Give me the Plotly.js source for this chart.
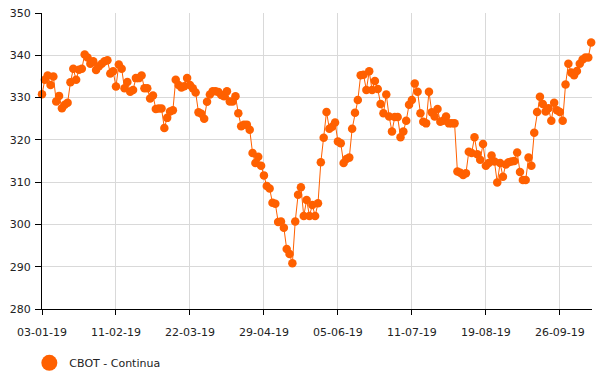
<!DOCTYPE html>
<html>
<head>
<meta charset="utf-8">
<script src="https://cdn.plot.ly/plotly-3.0.1.min.js"></script>
<style>html,body{margin:0;padding:0;background:#fff;}#chart{width:603px;height:381px;}</style>
</head>
<body>
<div id="chart"></div>
<script>
var seriesName = 'CBOT - Continua';
var values = [
330.8,334.2,335.2,333.0,335.0,329.1,330.4,327.5,328.3,328.8,
333.6,336.8,334.2,336.6,336.8,340.2,339.5,338.0,338.6,336.5,
337.4,338.0,338.6,338.8,335.7,336.2,332.6,337.8,336.8,332.2,
333.7,331.4,331.8,334.6,334.6,335.2,332.2,332.2,329.8,330.5,
327.3,327.4,327.4,322.8,325.2,326.7,327.0,334.2,333.0,332.4,
332.7,334.6,333.0,332.2,331.2,326.5,326.2,325.0,329.0,330.7,
331.5,331.5,331.3,330.6,330.3,331.5,329.1,329.1,330.3,326.3,
323.2,323.6,323.6,322.4,316.9,314.5,316.0,313.9,311.6,309.1,
308.5,305.1,304.9,300.6,300.7,299.2,294.2,293.0,290.8,300.7,
307.0,308.8,302.0,305.8,302.0,304.6,302.0,305.0,314.7,320.5,
326.6,322.6,323.1,324.1,319.6,319.2,314.5,315.5,315.8,322.6,
326.4,329.4,335.3,335.4,331.8,336.2,331.8,333.9,332.0,328.5,
326.3,330.7,325.5,322.0,325.4,325.4,320.6,322.0,324.5,328.3,
329.4,333.3,331.4,326.3,324.3,323.9,331.4,326.5,325.5,327.3,
324.3,324.5,325.5,323.9,323.9,323.9,312.5,312.2,311.7,312.1,
317.2,316.9,320.6,316.6,315.3,319.0,313.9,314.5,316.3,314.9,
309.9,314.5,311.3,314.2,314.7,314.9,315.0,317.0,312.4,310.5,
310.5,315.8,313.9,321.7,326.6,330.2,328.5,326.7,327.5,324.5,
328.8,327.0,326.6,324.5,333.1,338.0,335.9,335.3,336.3,338.0,
339.0,339.5,339.5,343.0
];
var tickPositions = [0, 26, 52, 78, 104, 130, 156, 182];
var tickLabels = ['03-01-19','11-02-19','22-03-19','29-04-19','05-06-19','11-07-19','19-08-19','26-09-19'];
var yTicks = [280, 290, 300, 310, 320, 330, 340, 350];

var xs = values.map(function(v, i){ return i; });
var orange = '#ff6000';
var font = 'DejaVu Sans, Verdana, sans-serif';

var traces = [
  {
    x: xs, y: values, type: 'scatter', mode: 'lines+markers',
    line: {color: orange, width: 1},
    marker: {color: orange, size: 8.5},
    cliponaxis: false, showlegend: false, hoverinfo: 'x+y'
  },
  {
    x: [null], y: [null], type: 'scatter', mode: 'markers', name: seriesName,
    marker: {color: orange, size: 16}, showlegend: true
  }
];

var layout = {
  width: 603, height: 381,
  margin: {l: 42, r: 11, t: 13, b: 72, autoexpand: false},
  paper_bgcolor: '#fff', plot_bgcolor: '#fff',
  font: {family: font, size: 11, color: '#222'},
  xaxis: {
    range: [0, 193.3], tickmode: 'array', tickvals: tickPositions, ticktext: tickLabels,
    showgrid: true, gridcolor: '#d9d9d9', gridwidth: 1,
    showline: true, linecolor: '#000', linewidth: 1,
    ticks: 'outside', ticklen: 5, tickcolor: '#000', zeroline: false,
    ticklabelstandoff: 8, automargin: false,
    tickfont: {family: font, size: 11, color: '#222'}
  },
  yaxis: {
    range: [280, 350], tickmode: 'array', tickvals: yTicks,
    showgrid: true, gridcolor: '#d9d9d9', gridwidth: 1,
    showline: true, linecolor: '#000', linewidth: 1,
    ticks: 'outside', ticklen: 6, tickcolor: '#000', zeroline: false,
    ticklabelstandoff: 2, automargin: false,
    tickfont: {family: font, size: 11, color: '#222'}
  },
  showlegend: true,
  legend: {
    orientation: 'h', x: -0.023, xanchor: 'left', y: -0.182, yanchor: 'middle',
    font: {family: font, size: 11, color: '#222'}, bgcolor: 'rgba(0,0,0,0)'
  }
};

Plotly.newPlot('chart', traces, layout, {staticPlot: true, displayModeBar: false});
</script>
</body>
</html>
